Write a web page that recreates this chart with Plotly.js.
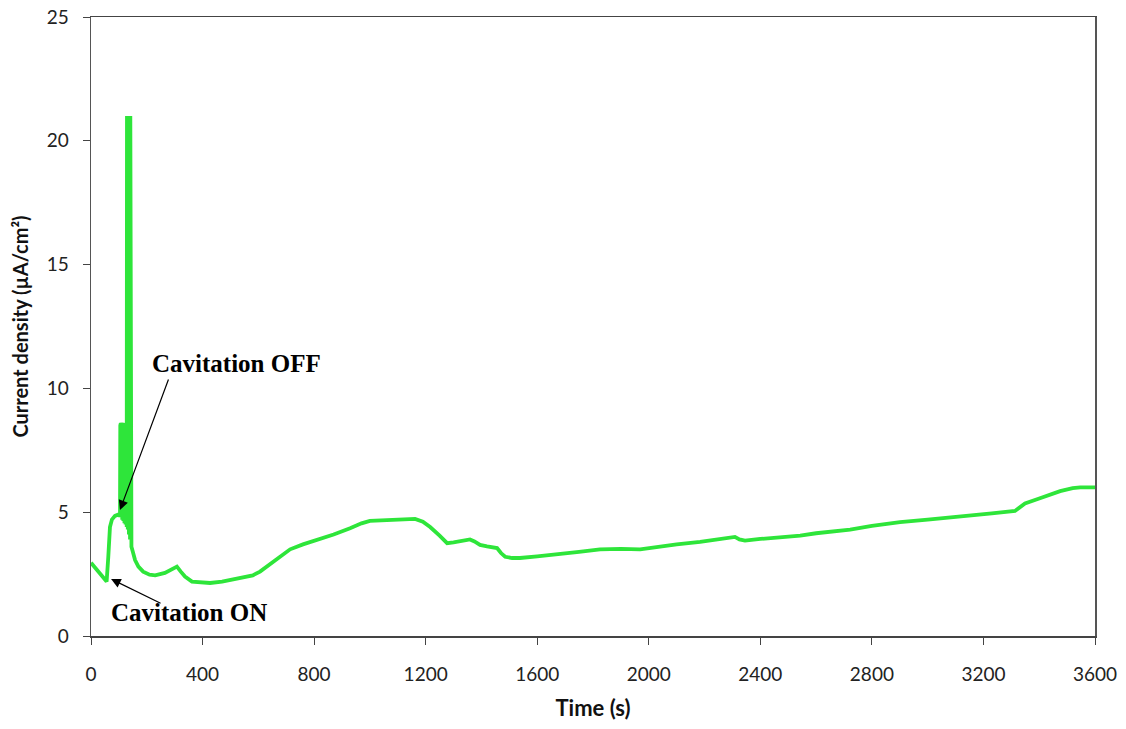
<!DOCTYPE html>
<html>
<head>
<meta charset="utf-8">
<script src="https://cdn.plot.ly/plotly-3.0.1.min.js"></script>
<style>html,body{margin:0;padding:0;background:#fff;}#chart{width:1126px;height:729px;}</style>
</head>
<body>
<div id="chart"></div>
<script>
// Time (s) and current density (µA/cm²)
const timeS = [0, 20, 40, 56, 62, 68, 75, 86, 97, 104,
  105, 106, 107, 108, 109, 110, 111, 112, 113, 114, 115, 116, 117, 118, 119, 120, 121, 122, 123, 124, 125, 126, 127, 128,
  129, 130, 131, 132, 133, 134, 135, 136, 137, 138, 139, 140, 141, 142, 143, 144, 145,
  150, 158, 170, 187, 210, 230, 265, 290, 308, 322, 337, 362, 390, 409, 427, 470, 534, 580, 606, 650, 714, 760,
  821, 870, 929, 970, 1000, 1060, 1120, 1162, 1190, 1216, 1250, 1277, 1300, 1330, 1359, 1375, 1395, 1420, 1456,
  1470, 1485, 1510, 1538, 1600, 1682, 1750, 1825, 1900, 1969, 2000, 2040, 2100, 2184, 2250, 2309, 2325, 2345,
  2400, 2470, 2543, 2600, 2660, 2722, 2800, 2901, 3000, 3080, 3150, 3230, 3313, 3330, 3349, 3400, 3475, 3520, 3547, 3600];
const currentDensity = [2.96, 2.7, 2.45, 2.2, 3.2, 4.4, 4.7, 4.85, 4.9, 4.85,
  8.5, 4.8, 8.6, 4.8, 8.4, 4.75, 8.6, 4.7, 8.5, 4.7, 8.6, 4.65, 8.5, 4.6, 8.6, 4.55, 8.3, 4.5, 8.4, 4.5, 8.2, 4.45, 8.4, 4.4,
  21.0, 4.4, 20.9, 4.3, 21.0, 4.2, 20.9, 4.1, 21.0, 4.0, 20.8, 3.9, 21.0, 3.8, 20.7, 3.7, 3.6,
  3.4, 3.07, 2.8, 2.6, 2.48, 2.45, 2.55, 2.68, 2.8, 2.6, 2.4, 2.2, 2.16, 2.15, 2.14, 2.2, 2.34, 2.45, 2.6, 2.95, 3.5, 3.7,
  3.9, 4.1, 4.35, 4.55, 4.65, 4.68, 4.72, 4.73, 4.62, 4.4, 4.05, 3.75, 3.78, 3.85, 3.9, 3.82, 3.68, 3.62, 3.55,
  3.35, 3.2, 3.15, 3.15, 3.22, 3.3, 3.4, 3.5, 3.52, 3.5, 3.55, 3.6, 3.7, 3.8, 3.9, 4.0, 3.9, 3.85,
  3.92, 3.98, 4.05, 4.15, 4.22, 4.3, 4.45, 4.6, 4.7, 4.8, 4.88, 4.95, 5.05, 5.2, 5.35, 5.55, 5.85, 5.97, 6.0, 6.0];

const xTicks = [0, 400, 800, 1200, 1600, 2000, 2400, 2800, 3200, 3600];
const yTicks = [0, 5, 10, 15, 20, 25];
const labelOff = 'Cavitation OFF';
const labelOn = 'Cavitation ON';

const tickFont = {family: 'Lato, "Open Sans", sans-serif', size: 19, color: '#222'};
const annFont = {family: '"Liberation Serif", "DejaVu Serif", serif', size: 25, color: '#000', weight: 'bold'};

const trace = {
  x: timeS, y: currentDensity, type: 'scatter', mode: 'lines',
  line: {color: '#2ee53a', width: 3.8},
  hoverinfo: 'skip'
};

const layout = {
  width: 1126, height: 729,
  margin: {l: 91, r: 31, t: 17, b: 93},
  paper_bgcolor: '#fff', plot_bgcolor: '#fff',
  showlegend: false,
  xaxis: {
    range: [0, 3600], tickvals: xTicks, ticktext: xTicks.map(String),
    ticks: 'outside', ticklen: 7, tickcolor: '#444', tickwidth: 1,
    ticklabelstandoff: 14,
    showline: true, linecolor: '#444', linewidth: 1.5, mirror: true,
    showgrid: false, zeroline: false, tickfont: tickFont,
    title: {text: '<b>Time (s)</b>', font: {family: 'Lato, "Open Sans", sans-serif', size: 22, color: '#111'}, standoff: 16}
  },
  yaxis: {
    range: [0, 25], tickvals: yTicks, ticktext: yTicks.map(String),
    ticks: 'outside', ticklen: 7, tickcolor: '#444', tickwidth: 1,
    ticklabelstandoff: 10,
    showline: true, linecolor: '#555', linewidth: 1.5, mirror: true,
    showgrid: false, zeroline: false, tickfont: tickFont,
    title: {text: '<b>Current density (µA/cm²)</b>', font: {family: 'Lato, "Open Sans", sans-serif', size: 20, color: '#111'}, standoff: 12}
  },
  annotations: [
    {x: 104, y: 5.09, xref: 'x', yref: 'y', ax: 49, ay: -132,
     text: '', showarrow: true, arrowhead: 2, arrowsize: 1.6, arrowwidth: 1.2, arrowcolor: '#000'},
    {x: 72, y: 2.3, xref: 'x', yref: 'y', ax: 51, ay: 25,
     text: '', showarrow: true, arrowhead: 2, arrowsize: 1.6, arrowwidth: 1.2, arrowcolor: '#000'},
    {x: 212, y: 11.0, xref: 'x', yref: 'y', xanchor: 'left', yanchor: 'middle',
     text: '<b>' + labelOff + '</b>', showarrow: false, font: annFont},
    {x: 66, y: 0.93, xref: 'x', yref: 'y', xanchor: 'left', yanchor: 'middle',
     text: '<b>' + labelOn + '</b>', showarrow: false, font: annFont}
  ]
};

Plotly.newPlot('chart', [trace], layout, {displayModeBar: false, staticPlot: true});
</script>
</body>
</html>
